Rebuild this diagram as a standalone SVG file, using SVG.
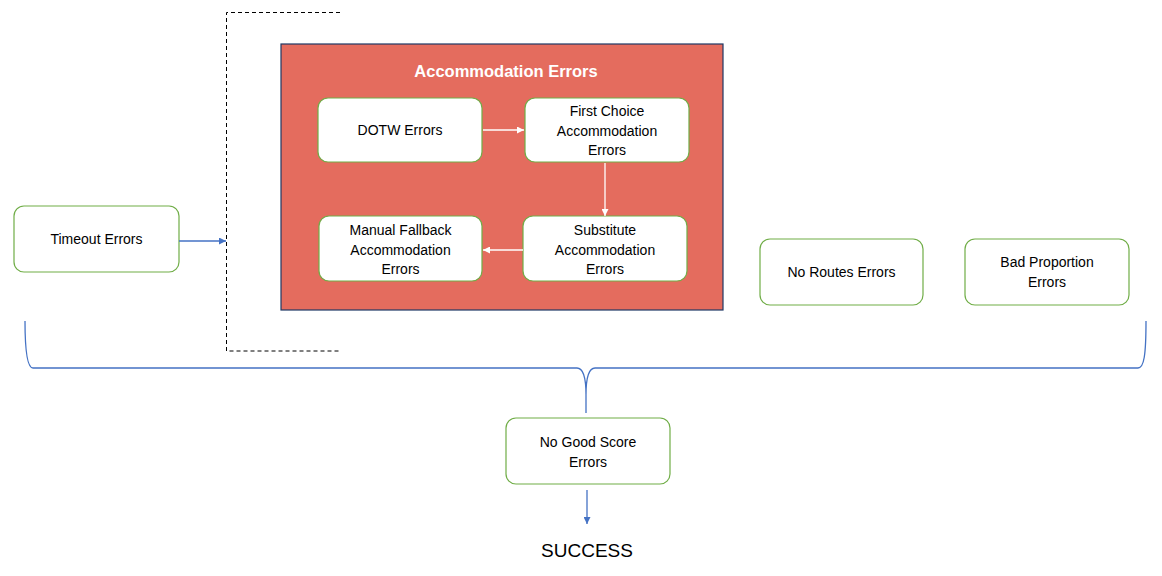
<svg xmlns="http://www.w3.org/2000/svg" width="1162" height="576" viewBox="0 0 1162 576">
<defs>
<style>
.node{fill:#fff;stroke:#70AD47;stroke-width:1.2}
.t{font-family:"Liberation Sans",Arial,sans-serif;font-size:14px;fill:#000;text-anchor:middle}
.blue{fill:none;stroke:#4472C4;stroke-width:1.3}
.white{fill:none;stroke:#fff;stroke-width:1.3}
</style>
<marker id="ab" viewBox="0 0 10 10" refX="10" refY="5" markerWidth="7" markerHeight="7" markerUnits="userSpaceOnUse" orient="auto"><path d="M0,0L10,5L0,10z" fill="#4472C4"/></marker>
<marker id="aw" viewBox="0 0 10 10" refX="10" refY="5" markerWidth="7" markerHeight="7" markerUnits="userSpaceOnUse" orient="auto"><path d="M0,0L10,5L0,10z" fill="#fff"/></marker>
</defs>
<rect width="1162" height="576" fill="#fff"/>
<g id="bracket">
<path d="M340,12.5H226.5V351H340" fill="none" stroke="#000" stroke-width="1" stroke-dasharray="4,3"/>
</g>
<g id="accommodation-errors">
<rect x="281" y="44" width="442" height="266" fill="#E46C5E" stroke="#1F3864" stroke-width="1.2"/>
<text x="506" y="77" class="t" style="font-weight:bold;font-size:16.5px;fill:#fff">Accommodation Errors</text>
</g>
<g id="timeout"><rect x="14" y="206" width="165" height="66" rx="10" class="node"/><text x="96.5" y="244" class="t">Timeout Errors</text></g>
<g id="dotw"><rect x="318" y="98" width="164" height="64" rx="10" class="node"/><text x="400" y="135" class="t">DOTW Errors</text></g>
<g id="first-choice"><rect x="525" y="98" width="164" height="64" rx="10" class="node"/><text x="607" y="116" class="t">First Choice</text><text x="607" y="135.5" class="t">Accommodation</text><text x="607" y="155" class="t">Errors</text></g>
<g id="manual-fallback"><rect x="319" y="216" width="163" height="65" rx="10" class="node"/><text x="400.5" y="235" class="t">Manual Fallback</text><text x="400.5" y="254.5" class="t">Accommodation</text><text x="400.5" y="274" class="t">Errors</text></g>
<g id="substitute"><rect x="523" y="216" width="164" height="65" rx="10" class="node"/><text x="605" y="235" class="t">Substitute</text><text x="605" y="254.5" class="t">Accommodation</text><text x="605" y="274" class="t">Errors</text></g>
<g id="no-routes"><rect x="760" y="239" width="163" height="66" rx="10" class="node"/><text x="841.5" y="277" class="t">No Routes Errors</text></g>
<g id="bad-proportion"><rect x="965" y="239" width="164" height="66" rx="10" class="node"/><text x="1047" y="267" class="t">Bad Proportion</text><text x="1047" y="287" class="t">Errors</text></g>
<g id="no-good-score"><rect x="506" y="418" width="164" height="66" rx="10" class="node"/><text x="588" y="447" class="t">No Good Score</text><text x="588" y="467" class="t">Errors</text></g>
<g id="success"><text x="587" y="557" class="t" style="font-size:19px">SUCCESS</text></g>
<g id="connectors">
<path d="M179,241H226" class="blue" marker-end="url(#ab)"/>
<path d="M483,130H524" class="white" marker-end="url(#aw)"/>
<path d="M605,163V216" class="white" marker-end="url(#aw)"/>
<path d="M523,250H483" class="white" marker-end="url(#aw)"/>
<path d="M25,321C25,355 28,368 33,368L577,368C583,368 586,378 586,395L586,413M586,395C586,378 589,368 595,368L1138,368C1144,368 1146,355 1146,321" class="blue"/>
<path d="M587,490V524" class="blue" marker-end="url(#ab)"/>
</g>
</svg>
